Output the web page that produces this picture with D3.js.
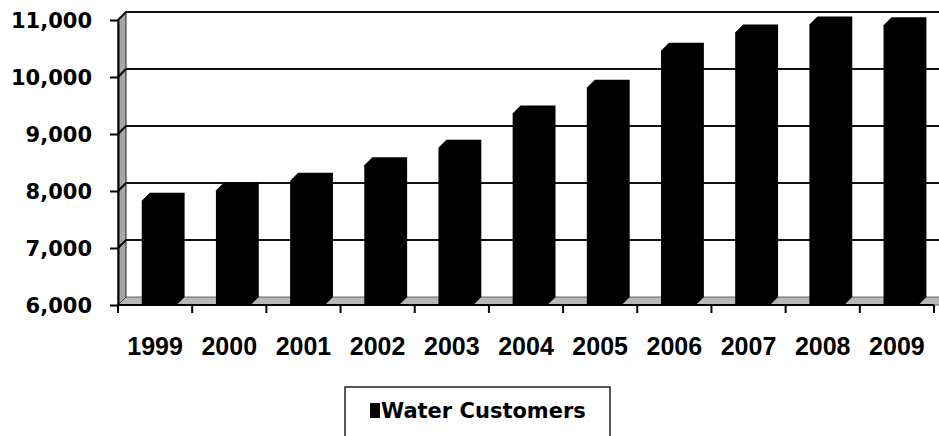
<!DOCTYPE html>
<html lang="en">
<head>
    <meta charset="UTF-8">
    <title>Water Customers</title>
    <script src="https://cdn.jsdelivr.net/npm/d3@7"></script>
    <style>
        body { margin:0; background:#fff; }
        svg { display:block; }
    </style>
</head>
<body>
<div id="grafica"></div>
<script>
// datos
years=['1999','2000','2001','2002','2003','2004','2005','2006','2007','2008','2009']
customers=[7830,8010,8180,8450,8760,9360,9810,10460,10780,10920,10910]
yTicks=[6000,7000,8000,9000,10000,11000]
serieName='Water Customers'

var ancho=939, alto=436
var left=118, right=934, base=305, techo=20
// profundidad 3d
var dx=8, dy=-8
var wallEnd=ancho+2

var svg=d3.select('#grafica')
	.append('svg')
	.attr('width',ancho)
	.attr('height',alto)

var y=d3.scaleLinear()
	.domain([6000,11000])
	.range([base,techo])
var x=d3.scaleBand()
	.domain(years)
	.range([left,right])

// pared del fondo
svg.append('rect')
	.attr('x',left+dx)
	.attr('y',y(11000)+dy)
	.attr('width',wallEnd-left-dx)
	.attr('height',y(6000)-y(11000))
	.attr('fill','#fff')
// pared izquierda
svg.append('path')
	.attr('d','M'+left+','+y(11000)+'L'+(left+dx)+','+(y(11000)+dy)+'L'+(left+dx)+','+(y(6000)+dy)+'L'+left+','+y(6000)+'Z')
	.attr('fill','#a6a6a6')
	.attr('stroke','#222')
	.attr('stroke-width',1)
// piso
svg.append('path')
	.attr('d','M'+left+','+y(6000)+'L'+(left+dx)+','+(y(6000)+dy)+'L'+wallEnd+','+(y(6000)+dy)+'L'+wallEnd+','+y(6000)+'Z')
	.attr('fill','#b8b8b8')
	.attr('stroke','#444')
	.attr('stroke-width',0.8)
// lineas de la cuadricula
svg.selectAll('.grid')
	.data(yTicks.filter(function(d){return d>6000}))
	.enter()
	.append('path')
	.attr('class','grid')
	.attr('d',function(d){return 'M'+left+','+y(d)+'L'+(left+dx)+','+(y(d)+dy)+'L'+wallEnd+','+(y(d)+dy)})
	.attr('fill','none')
	.attr('stroke','#111')
	.attr('stroke-width',2.2)

// barras (frente + tapa + lado, todo negro)
var bx=function(d){return x(d)+x.bandwidth()*0.32}
var bw=x.bandwidth()*0.47
svg.selectAll('.bar')
	.data(years)
	.enter()
	.append('path')
	.attr('class','bar')
	.attr('d',function(d,i){
		var x0=bx(d), yt=y(customers[i]), yb=y(6000)
		return 'M'+x0+','+yb+'L'+x0+','+yt+'L'+(x0+dx)+','+(yt+dy)+'L'+(x0+bw+dx)+','+(yt+dy)
			+'L'+(x0+bw+dx)+','+(yb+dy)+'L'+(x0+bw)+','+yb+'Z'
	})
	.attr('fill','#000')

// eje y
var ejeY=svg.append('g')
	.attr('transform','translate('+left+',0)')
	.call(d3.axisLeft(y).tickValues(yTicks).tickFormat(d3.format(',')).tickSize(8).tickSizeOuter(0).tickPadding(18))
ejeY.select('.domain').attr('stroke','#000').attr('stroke-width',2)
ejeY.selectAll('.tick line').attr('stroke','#000').attr('stroke-width',2)
ejeY.selectAll('text')
	.attr('font-family','DejaVu Sans')
	.attr('font-weight','bold')
	.attr('font-size','21px')
	.attr('fill','#000')
	.attr('dy','0.38em')

// eje x
svg.append('line')
	.attr('x1',left).attr('x2',right)
	.attr('y1',base).attr('y2',base)
	.attr('stroke','#000')
	.attr('stroke-width',2)
var bounds=years.map(function(d){return x(d)}).concat([right])
svg.selectAll('.xtick')
	.data(bounds)
	.enter()
	.append('line')
	.attr('class','xtick')
	.attr('x1',function(d){return d}).attr('x2',function(d){return d})
	.attr('y1',base).attr('y2',base+8)
	.attr('stroke','#000')
	.attr('stroke-width',2)
svg.selectAll('.xlabel')
	.data(years)
	.enter()
	.append('text')
	.attr('class','xlabel')
	.attr('x',function(d){return x(d)+x.bandwidth()/2})
	.attr('y',355)
	.attr('text-anchor','middle')
	.attr('font-family','Liberation Sans')
	.attr('font-weight','bold')
	.attr('font-size','25px')
	.text(function(d){return d})

// leyenda
var ley=svg.append('g').attr('transform','translate(345,387)')
ley.append('rect')
	.attr('x',0).attr('y',0)
	.attr('width',265).attr('height',60)
	.attr('fill','#fff')
	.attr('stroke','#000')
	.attr('stroke-width',1.3)
ley.append('rect')
	.attr('x',25).attr('y',16)
	.attr('width',10).attr('height',15)
	.attr('fill','#000')
ley.append('text')
	.attr('x',36).attr('y',31)
	.attr('font-family','DejaVu Sans')
	.attr('font-weight','bold')
	.attr('font-size','21px')
	.text(serieName)
</script>
</body>
</html>
